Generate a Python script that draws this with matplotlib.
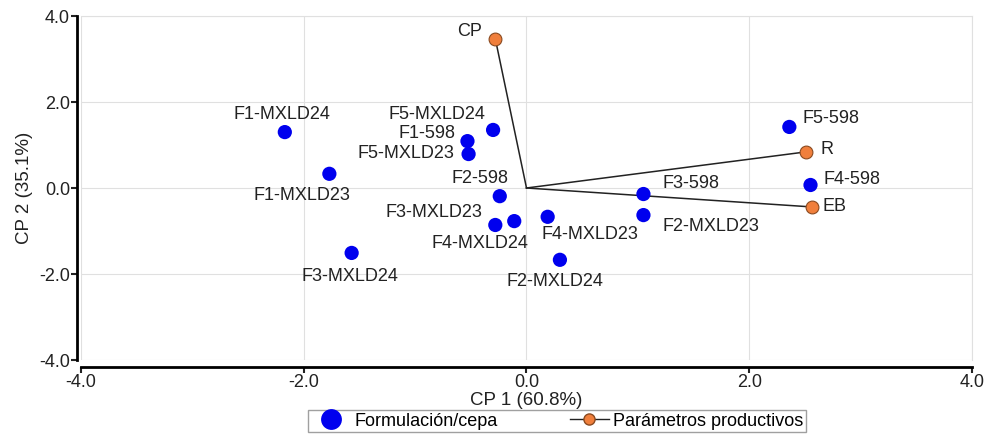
import numpy as np
import matplotlib.pyplot as plt
from matplotlib.lines import Line2D

plt.rcParams['font.family'] = ['Liberation Sans', 'DejaVu Sans']

# scores (formulation / strain)
obs_names = ["F1-MXLD24", "F1-MXLD23", "F3-MXLD24", "F5-MXLD24", "F1-598",
             "F5-MXLD23", "F2-598", "F3-MXLD23", "F4-MXLD24", "F4-MXLD23",
             "F2-MXLD24", "F3-598", "F2-MXLD23", "F5-598", "F4-598"]
obs_x = [-2.17, -1.77, -1.57, -0.30, -0.53, -0.52, -0.24, -0.28, -0.11, 0.19,
         0.30, 1.05, 1.05, 2.36, 2.55]
obs_y = [1.30, 0.33, -1.51, 1.35, 1.09, 0.79, -0.19, -0.86, -0.77, -0.67,
         -1.67, -0.14, -0.63, 1.42, 0.07]

# loadings (productive parameters)
var_names = ["CP", "R", "EB"]
var_x = [-0.28, 2.51, 2.56]
var_y = [3.47, 0.84, -0.44]

# label placement (offset in pixels, horizontal alignment)
label_pos = {
    "F1-MXLD24": (-3, 18, 'center'), "F1-MXLD23": (-27, -22, 'center'),
    "F3-MXLD24": (-2, -24, 'center'), "F5-MXLD24": (-56, 15, 'center'),
    "F1-598": (-12, 8, 'right'), "F5-MXLD23": (-14, 1, 'right'),
    "F2-598": (-20, 18, 'center'), "F3-MXLD23": (-13, 12, 'right'),
    "F4-MXLD24": (-34, -22, 'center'), "F4-MXLD23": (42, -18, 'center'),
    "F2-MXLD24": (-5, -22, 'center'), "F3-598": (19, 11, 'left'),
    "F2-MXLD23": (19, -11, 'left'), "F5-598": (13, 8, 'left'),
    "F4-598": (13, 5, 'left'), "CP": (-13, 7, 'right'),
    "R": (14, 2, 'left'), "EB": (11, 0, 'left'),
}

blue = '#0000EE'
orange = '#F07F3C'
txt = '#222222'
fs = 13

fig = plt.figure(figsize=(9.87, 4.40), dpi=100)
ax = fig.add_axes([81 / 987, 1 - 360 / 440, 891 / 987, 344 / 440])

for vx, vy in zip(var_x, var_y):
    ax.plot([0, vx], [0, vy], color=txt, lw=1.1, zorder=2)
ax.scatter(var_x, var_y, s=85, color=orange, edgecolor='#8a4a20', lw=0.8, zorder=4)
ax.scatter(obs_x, obs_y, s=105, color=blue, edgecolor='none', zorder=3)

for n, x, y in list(zip(obs_names, obs_x, obs_y)) + list(zip(var_names, var_x, var_y)):
    dx, dy, ha = label_pos[n]
    ax.annotate(n, (x, y), xytext=(dx, dy), textcoords='offset pixels',
                ha=ha, va='center', fontsize=fs, color=txt)

ax.set_xlim(-4, 4)
ax.set_ylim(-4, 4)
ax.set_xticks([-4, -2, 0, 2, 4])
ax.set_yticks([-4, -2, 0, 2, 4])
ax.set_xticklabels(['-4.0', '-2.0', '0.0', '2.0', '4.0'])
ax.set_yticklabels(['-4.0', '-2.0', '0.0', '2.0', '4.0'])
ax.grid(True, color='#e0e0e0', lw=0.8)
ax.set_axisbelow(True)
for s in ['top', 'right']:
    ax.spines[s].set_visible(False)
ax.spines['left'].set_position(('outward', 3))
ax.spines['bottom'].set_position(('outward', 5))
ax.spines['left'].set_linewidth(2)
ax.spines['bottom'].set_linewidth(2)
ax.plot([4, 4], [-4, 4], color='#e0e0e0', lw=0.8, clip_on=False, zorder=0)
ax.plot([-4, 4], [4, 4], color='#e0e0e0', lw=0.8, clip_on=False, zorder=0)
ax.tick_params(labelsize=fs, length=4, width=1.5, colors=txt, pad=1)

ax.set_xlabel('CP 1 (60.8%)', fontsize=13.5, color=txt, labelpad=1)
ax.set_ylabel('CP 2 (35.1%)', fontsize=13.5, color=txt, labelpad=4)

handles = [
    Line2D([], [], ls='none', marker='o', ms=15, color=blue, mec='none'),
    Line2D([], [], color=txt, lw=1, marker='o', ms=8, mfc=orange, mec='#8a4a20'),
]
fig.legend(handles, ['Formulación/cepa', 'Parámetros productivos'],
           loc='upper center', bbox_to_anchor=(557 / 987, 1 - 410 / 440),
           ncol=2, fontsize=fs, frameon=True, fancybox=False,
           edgecolor='#888888', columnspacing=4, handlelength=2.2,
           handletextpad=0.2, borderpad=0.15, borderaxespad=0)

plt.savefig('out.png', dpi=100)
